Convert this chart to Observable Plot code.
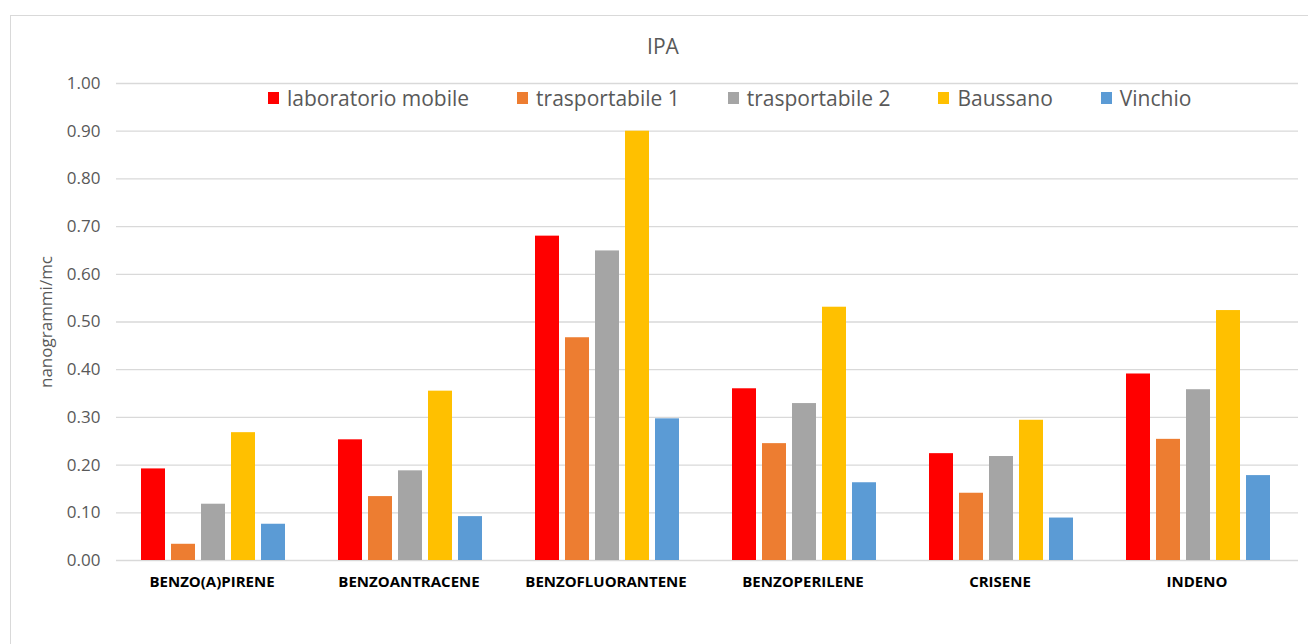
<!DOCTYPE html>
<html>
<head>
<meta charset="utf-8">
<script src="https://cdn.jsdelivr.net/npm/d3@7"></script>
<script src="https://cdn.jsdelivr.net/npm/@observablehq/plot@0.6"></script>
<style>
  html, body { margin: 0; padding: 0; background: #fff; overflow: hidden; }
  #wrap { position: relative; width: 1308px; height: 644px; font-family: "Open Sans", sans-serif; }
  #border { position: absolute; left: 10px; top: 15px; width: 1330px; height: 700px; border: 1.5px solid #d9d9d9; box-sizing: border-box; }
  #chart { position: absolute; left: 0; top: 0; }
  #title { position: absolute; left: 0; width: 1326px; top: 31px; text-align: center; font-size: 21px; color: #595959; line-height: 30px; }
  #legend { position: absolute; left: 268px; top: 86px; display: flex; gap: 48px; font-size: 21px; color: #595959; line-height: 24px; }
  .item { display: flex; align-items: center; white-space: nowrap; }
  .sw { width: 11px; height: 12px; margin-right: 8px; }
</style>
</head>
<body>
<div id="wrap">
  <div id="border"></div>
  <div id="chart"></div>
  <div id="title">IPA</div>
  <div id="legend"></div>
</div>
<script>
const categories = ["BENZO(A)PIRENE", "BENZOANTRACENE", "BENZOFLUORANTENE", "BENZOPERILENE", "CRISENE", "INDENO"];
const series = ["laboratorio mobile", "trasportabile 1", "trasportabile 2", "Baussano", "Vinchio"];
const colors = ["#FF0000", "#ED7D31", "#A5A5A5", "#FFC000", "#5B9BD5"];
const laboratorioMobile = [0.192, 0.253, 0.680, 0.360, 0.224, 0.391];
const trasportabile1 = [0.034, 0.134, 0.467, 0.245, 0.141, 0.254];
const trasportabile2 = [0.118, 0.188, 0.649, 0.329, 0.218, 0.358];
const baussano = [0.268, 0.355, 0.900, 0.531, 0.294, 0.524];
const vinchio = [0.076, 0.092, 0.297, 0.163, 0.089, 0.178];
const yTicks = [0, 0.1, 0.2, 0.3, 0.4, 0.5, 0.6, 0.7, 0.8, 0.9, 1.0];
const yLabel = "nanogrammi/mc";
const title = "IPA";

const valuesBySeries = [laboratorioMobile, trasportabile1, trasportabile2, baussano, vinchio];
const data = [];
categories.forEach((c, i) => {
  series.forEach((s, j) => {
    data.push({category: c, series: s, value: valuesBySeries[j][i]});
  });
});

const chart = Plot.plot({
  width: 1308,
  height: 644,
  marginLeft: 114,
  marginRight: 9,
  marginTop: 83,
  marginBottom: 84,
  style: {fontFamily: "'Open Sans', sans-serif", background: "transparent", overflow: "visible"},
  fx: {domain: categories, padding: 0, label: null},
  x: {domain: series, axis: null, paddingInner: 0.2, paddingOuter: 0.8},
  y: {domain: [0, 1], label: null},
  color: {domain: series, range: colors},
  marks: [
    Plot.gridY(yTicks, {stroke: "#d9d9d9", strokeOpacity: 1, strokeWidth: 1.3}),
    Plot.barY(data, {fx: "category", x: "series", y: "value", fill: "series", dx: -2}),
    Plot.axisFx({anchor: "bottom", tickSize: 0, tickPadding: 16, fontSize: 15, fontWeight: "bold", fill: "black", label: null, dx: -3}),
    Plot.axisY(yTicks, {anchor: "left", tickSize: 0, tickPadding: 16, fontSize: 17, fill: "#595959",
      tickFormat: d3.format(".2f"), label: yLabel, labelAnchor: "center", labelOffset: 77, labelArrow: "none"})
  ]
});
document.getElementById("chart").appendChild(chart);
document.getElementById("title").textContent = title;

const legend = document.getElementById("legend");
series.forEach((s, j) => {
  const item = document.createElement("div");
  item.className = "item";
  const sw = document.createElement("div");
  sw.className = "sw";
  sw.style.background = colors[j];
  const t = document.createElement("span");
  t.textContent = s;
  item.appendChild(sw);
  item.appendChild(t);
  legend.appendChild(item);
});
</script>
</body>
</html>
